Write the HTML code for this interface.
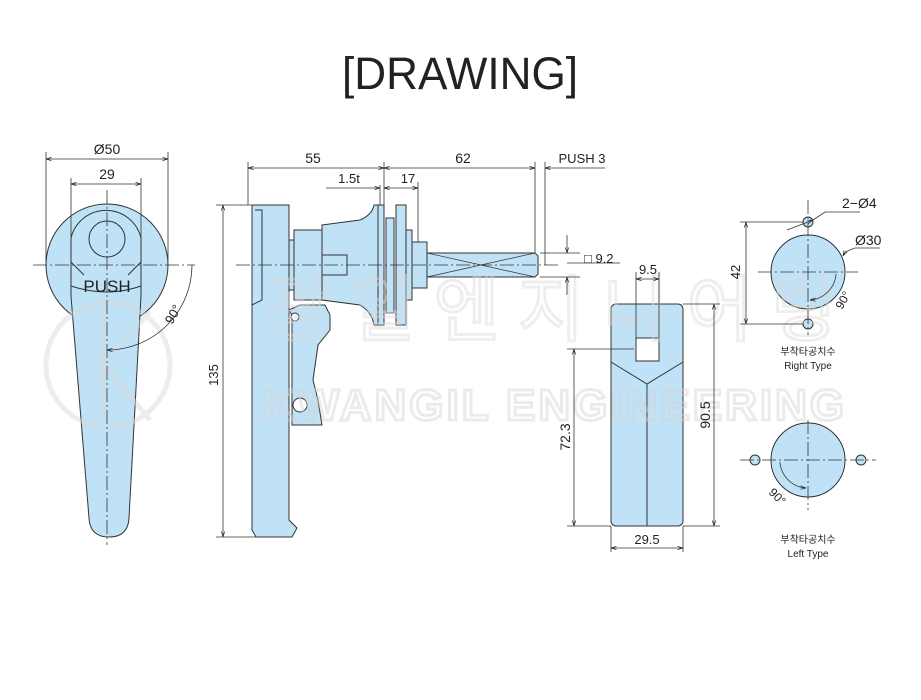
<!DOCTYPE html>
<html><head><meta charset="utf-8"><style>
html,body{margin:0;padding:0;background:#fff;}
svg{display:block;font-family:"Liberation Sans","Noto Sans CJK KR",sans-serif;}
</style></head><body>
<svg width="921" height="700" viewBox="0 0 921 700" xmlns="http://www.w3.org/2000/svg">
<defs>
<marker id="a" viewBox="0 0 10 10" refX="10" refY="5" markerWidth="7" markerHeight="7" orient="auto-start-reverse"><path d="M0,2 L10,5 L0,8" fill="none" stroke="#222" stroke-width="1.2"/></marker>
</defs>
<text x="460" y="89" font-size="45" text-anchor="middle" fill="#222" textLength="236" lengthAdjust="spacingAndGlyphs">[DRAWING]</text>

<g fill="#bfe2f6" stroke="#333" stroke-width="1">
<circle cx="107" cy="265" r="61"/>
<path d="M71,238 A36,36 0 0 1 141,238 L141,296 L129,518 Q128,537 109,537 Q90,537 89,518 L71,296 Z"/>
<circle cx="107" cy="239" r="18" fill="#bfe2f6"/>
<path d="M71,286 Q107,298 141,286" fill="none"/>
<path d="M71,262 L84,275 M141,262 L128,275" fill="none"/>

<path d="M252,205 L289,205 L289,520 L297,528 L292,537 L256,537 L252,530 Z"/>
<path d="M255,210 L262,210 L262,300 L252,305" fill="none"/>
<rect x="289" y="240" width="6" height="50"/>
<rect x="294" y="230" width="28" height="70"/>
<path d="M322,225 L360,220 Q372,215 374,205 L384,205 L384,325 L374,325 Q372,312 360,305 L322,300 Z"/>
<rect x="322" y="255" width="25" height="20" fill="none"/>
<rect x="378" y="205" width="6" height="120" fill="#bfe2f6"/>
<rect x="386" y="218" width="8" height="95"/>
<rect x="396" y="205" width="10" height="120"/>
<rect x="406" y="230" width="6" height="70"/>
<rect x="412" y="242" width="15" height="46"/>
<path d="M427,253 L535,253 L538,256 L538,274 L535,277 L427,277 Z"/>
<path d="M427,253 L535,277 M427,277 L535,253" fill="none" stroke-width="0.7"/>
<path d="M289,310 L300,305 L325,305 L330,315 L330,330 L318,345 L313,380 L318,400 L322,425 L292,425 L292,315 Z"/>
<circle cx="300" cy="405" r="7" fill="#fff"/>
<circle cx="295" cy="317" r="4" fill="#fff"/>

<rect x="611" y="304" width="72" height="222" rx="5"/>
<rect x="636" y="338" width="23" height="23" fill="#fff"/>
<path d="M611,362 L647,384 L683,362 M647,384 L647,526" fill="none"/>

<circle cx="808" cy="272" r="37"/>
<circle cx="808" cy="222" r="5"/>
<circle cx="808" cy="324" r="5"/>
<circle cx="808" cy="460" r="37"/>
<circle cx="755" cy="460" r="5"/>
<circle cx="861" cy="460" r="5"/>
</g>

<g opacity="0.45">
<g fill="none" stroke="#d8d8d8" stroke-width="5">
<circle cx="108" cy="365" r="62"/>
<path d="M102,305 L102,420 M104,365 L150,312 M104,365 L150,420"/>
</g>
<text x="555" y="420" font-size="44" font-weight="bold" text-anchor="middle" fill="none" stroke="#d4d4d4" stroke-width="3" letter-spacing="3">KWANGIL ENGINEERING</text>
<text x="560" y="335" font-size="72" text-anchor="middle" fill="none" stroke="#dadada" stroke-width="3" letter-spacing="18">광일엔지니어링</text>
</g>

<g stroke="#333" stroke-width="0.8" fill="none" stroke-dasharray="14,3,2,3">
<path d="M33,265 L195,265 M107,190 L107,545"/>
<path d="M236,265 L560,265"/>
<path d="M758,272 L858,272 M808,200 L808,335"/>
<path d="M740,460 L876,460 M808,420 L808,510"/>
</g>

<g stroke="#333" stroke-width="0.8" fill="none">
<path d="M46,262 L46,152 M168,262 L168,152 M71,238 L71,178 M141,238 L141,178"/>
<path d="M46,159 L168,159" marker-start="url(#a)" marker-end="url(#a)"/>
<path d="M71,184 L141,184" marker-start="url(#a)" marker-end="url(#a)"/>
<path d="M192,265 A85,85 0 0 1 107,350" marker-end="url(#a)"/>

<path d="M216,205 L252,205 M216,537 L256,537"/>
<path d="M223,205 L223,537" marker-start="url(#a)" marker-end="url(#a)"/>
<path d="M248,205 L248,162 M384,205 L384,162 M380,205 L380,185 M418,242 L418,182 M535,253 L535,162 M545,265 L545,162"/>
<path d="M248,168 L384,168" marker-start="url(#a)" marker-end="url(#a)"/>
<path d="M384,168 L535,168" marker-start="url(#a)" marker-end="url(#a)"/>
<path d="M545,168 L605,168" marker-start="url(#a)"/>
<path d="M326,188 L380,188" marker-end="url(#a)"/>
<path d="M384,188 L418,188" marker-start="url(#a)" marker-end="url(#a)"/>
<path d="M540,253 L580,253 M540,277 L580,277"/>
<path d="M567,235 L567,253" marker-end="url(#a)"/>
<path d="M567,295 L567,277" marker-end="url(#a)"/>
<path d="M567,263 L620,263"/>

<path d="M636,338 L636,272 M659,338 L659,272"/>
<path d="M636,279 L659,279" marker-start="url(#a)" marker-end="url(#a)"/>
<path d="M683,304 L720,304 M683,526 L720,526"/>
<path d="M714,304 L714,526" marker-start="url(#a)" marker-end="url(#a)"/>
<path d="M567,349 L634,349 M567,526 L611,526"/>
<path d="M574,349 L574,526" marker-start="url(#a)" marker-end="url(#a)"/>
<path d="M611,526 L611,552 M683,526 L683,552"/>
<path d="M611,548 L683,548" marker-start="url(#a)" marker-end="url(#a)"/>

<path d="M740,222 L803,222 M740,324 L803,324"/>
<path d="M746,222 L746,324" marker-start="url(#a)" marker-end="url(#a)"/>
<path d="M787,230 L813,220" marker-end="url(#a)"/>
<path d="M813,220 L825,212 L860,212"/>
<path d="M845,252 L855,248 L880,248"/>
<path d="M845,252 L843,256" marker-end="url(#a)"/>
<path d="M836,274 A28,28 0 0 1 810,300" marker-end="url(#a)"/>
<path d="M780,462 A28,28 0 0 0 806,488" marker-end="url(#a)"/>
</g>

<g fill="#222" font-size="14">
<text x="107" y="154" text-anchor="middle">Ø50</text>
<text x="107" y="179" text-anchor="middle">29</text>
<text x="107" y="292" text-anchor="middle" font-size="17">PUSH</text>
<text x="0" y="0" transform="translate(172,325) rotate(-60)" font-size="13">90°</text>
<text x="0" y="0" transform="translate(218,375) rotate(-90)" text-anchor="middle" font-size="13">135</text>
<text x="313" y="163" text-anchor="middle">55</text>
<text x="463" y="163" text-anchor="middle">62</text>
<text x="582" y="163" text-anchor="middle" font-size="13">PUSH 3</text>
<text x="349" y="183" text-anchor="middle" font-size="13">1.5t</text>
<text x="408" y="183" text-anchor="middle" font-size="13">17</text>
<text x="584" y="263" font-size="13">□ 9.2</text>
<text x="648" y="274" text-anchor="middle" font-size="13">9.5</text>
<text x="0" y="0" transform="translate(570,437) rotate(-90)" text-anchor="middle">72.3</text>
<text x="0" y="0" transform="translate(710,415) rotate(-90)" text-anchor="middle">90.5</text>
<text x="647" y="544" text-anchor="middle" font-size="13">29.5</text>
<text x="0" y="0" transform="translate(740,272) rotate(-90)" text-anchor="middle" font-size="13">42</text>
<text x="842" y="208" font-size="14">2−Ø4</text>
<text x="855" y="245" font-size="14">Ø30</text>
<text x="0" y="0" transform="translate(842,310) rotate(-60)" font-size="12">90°</text>
<text x="0" y="0" transform="translate(768,493) rotate(45)" font-size="12">90°</text>
<text x="808" y="355" text-anchor="middle" font-size="10">부착타공치수</text>
<text x="808" y="369" text-anchor="middle" font-size="10">Right Type</text>
<text x="808" y="543" text-anchor="middle" font-size="10">부착타공치수</text>
<text x="808" y="557" text-anchor="middle" font-size="10">Left Type</text>
</g>
</svg>
</body></html>
